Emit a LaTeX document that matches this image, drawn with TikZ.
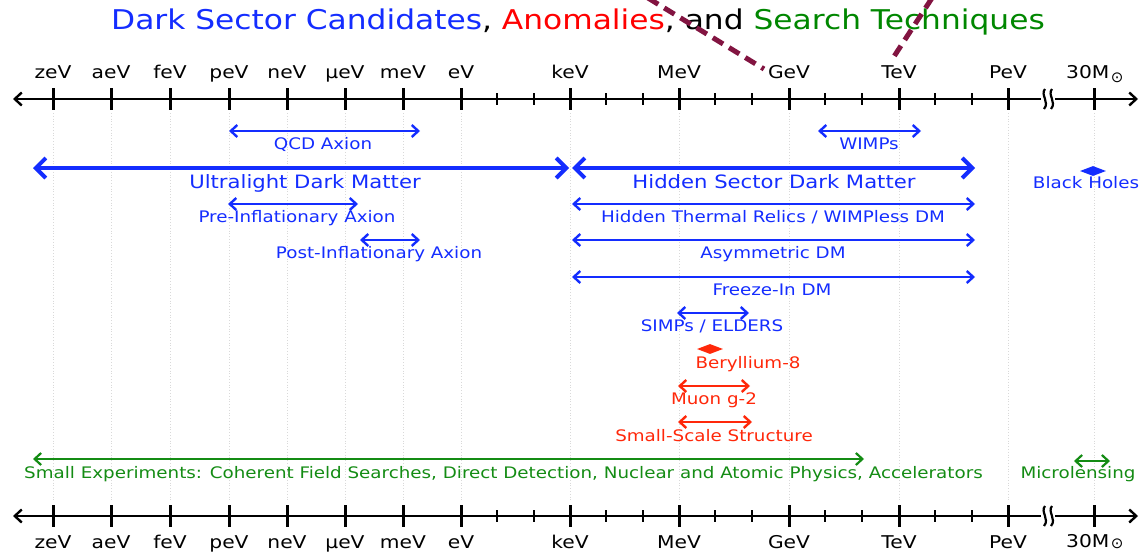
\documentclass[tikz,border=0pt]{standalone}
\usepackage{fontspec}
\setmainfont{DejaVu Sans}[FakeStretch=1.15]
\newfontfamily\symfont{DejaVu Sans}
\usetikzlibrary{arrows.meta,shapes.geometric}
\definecolor{dsblue}{RGB}{20,45,255}
\definecolor{dsred}{RGB}{255,40,10}
\definecolor{tred}{RGB}{255,0,0}
\definecolor{dsgreen}{RGB}{20,140,20}
\definecolor{tgreen}{RGB}{0,135,0}
\definecolor{dsmaroon}{RGB}{130,20,65}
\newcommand{\solarsym}[1]{\hspace{1.5pt}\raisebox{#1}{\symfont\fontsize{15}{15}\selectfont ⊙}}
\begin{document}
\begin{tikzpicture}[x=1pt,y=-1pt,
  lab/.style={inner sep=0pt, text height=0.72em, text depth=0.2em, font=\fontsize{15.9}{19}\selectfont},
  biglab/.style={lab, font=\fontsize{18.4}{22}\selectfont},
  ticklab/.style={lab, font=\fontsize{17.6}{21}\selectfont, text=black},
  axisline/.style={line width=2.4pt, black, {Straight Barb[length=7pt,width=13pt]}-{Straight Barb[length=7pt,width=13pt]}},
  majortick/.style={line width=3pt, black},
  minortick/.style={line width=2.6pt, black},
  gridline/.style={line width=0.8pt, black!15, dotted},
  rng/.style={line width=2.4pt, {Straight Barb[length=6.5pt,width=12pt]}-{Straight Barb[length=6.5pt,width=12pt]}},
  bigrng/.style={line width=4pt, {Straight Barb[length=10pt,width=20pt]}-{Straight Barb[length=10pt,width=20pt]}},
  dmark/.style={diamond, aspect=2.6, minimum width=26pt, minimum height=10pt, inner sep=0pt},
  dashln/.style={line width=5pt, dsmaroon, dash pattern=on 12pt off 7pt},
  breakln/.style={line width=2.2pt, black}
]
\useasboundingbox (0,0) rectangle (1140,554);
\fill[white] (0,0) rectangle (1140,554);

% grid lines
\foreach \x in {53,111,170,229,287,345,403,461,570,679,789,899,1008,1094}
  \draw[gridline] (\x,113) -- (\x,502);

% title
\node[inner sep=0pt, font=\fontsize{27.2}{31}\selectfont, text height=0.72em, text depth=0.2em] (title) at (578,27)
  {\textcolor{dsblue}{Dark Sector Candidates}, \textcolor{tred}{Anomalies}, and \textcolor{tgreen}{Search Techniques}};

% axes
\coordinate (tL) at (13,99);  \coordinate (tR) at (1138,99);
\coordinate (bL) at (13,516); \coordinate (bR) at (1138,516);
\draw[axisline] (tL) -- (tR);
\draw[axisline] (bL) -- (bR);

\foreach \x/\lab [count=\i] in {53/zeV,111/aeV,170/feV,229/peV,287/neV,345/{µeV},403/meV,461/eV,570/keV,679/MeV,789/GeV,899/TeV,1008/PeV}{
  \draw[majortick] (\x,88) -- (\x,110);
  \draw[majortick] (\x,505) -- (\x,527);
  \node[ticklab] (tt\i) at (\x,76) {\lab};
  \node[ticklab] (bt\i) at (\x,546) {\lab};
}
\draw[majortick] (1094,88) -- (1094,110);
\draw[majortick] (1094,505) -- (1094,527);
\node[ticklab, anchor=west] (ttm) at (1066,76) {30M\solarsym{-4pt}};
\node[ticklab, anchor=west] (btm) at (1066,545) {30M\solarsym{-0.5pt}};

\foreach \x in {497,534,606,643,715,752,825,862,935,972}{
  \draw[minortick] (\x,93) -- (\x,105);
  \draw[minortick] (\x,510) -- (\x,522);
}

% axis breaks
\foreach \y in {99,516}{
  \fill[white] (1041,\y-4) rectangle (1055,\y+4);
  \draw[breakln] (1045,\y-10) .. controls (1040,\y-4) and (1050,\y+3) .. (1044,\y+10);
  \draw[breakln] (1052,\y-10) .. controls (1047,\y-4) and (1057,\y+3) .. (1051,\y+10);
}

% blue ranges
\coordinate (qcdL) at (229,131); \coordinate (qcdR) at (420,131);
\draw[rng, dsblue] (qcdL) -- (qcdR);
\node[lab, text=dsblue] (qcd) at (323,147) {QCD Axion};

\coordinate (ulL) at (33,168); \coordinate (ulR) at (569,168);
\draw[bigrng, dsblue] (ulL) -- (ulR);
\node[biglab, text=dsblue] (ul) at (305,186) {Ultralight Dark Matter};

\coordinate (preL) at (228,204); \coordinate (preR) at (358,204);
\draw[rng, dsblue] (preL) -- (preR);
\node[lab, text=dsblue] (pre) at (297,220) {Pre-Inflationary Axion};

\coordinate (postL) at (360,240); \coordinate (postR) at (420,240);
\draw[rng, dsblue] (postL) -- (postR);
\node[lab, text=dsblue] (post) at (379,256) {Post-Inflationary Axion};

\coordinate (wimpL) at (818,131); \coordinate (wimpR) at (921,131);
\draw[rng, dsblue] (wimpL) -- (wimpR);
\node[lab, text=dsblue] (wimp) at (869,147) {WIMPs};

\coordinate (hsL) at (572,168); \coordinate (hsR) at (975,168);
\draw[bigrng, dsblue] (hsL) -- (hsR);
\node[biglab, text=dsblue] (hs) at (774,186) {Hidden Sector Dark Matter};

\coordinate (htL) at (572,204); \coordinate (htR) at (975,204);
\draw[rng, dsblue] (htL) -- (htR);
\node[lab, text=dsblue] (ht) at (773,220) {Hidden Thermal Relics / WIMPless DM};

\coordinate (asL) at (572,240); \coordinate (asR) at (975,240);
\draw[rng, dsblue] (asL) -- (asR);
\node[lab, text=dsblue] (as) at (773,256) {Asymmetric DM};

\coordinate (fiL) at (572,277); \coordinate (fiR) at (975,277);
\draw[rng, dsblue] (fiL) -- (fiR);
\node[lab, text=dsblue] (fi) at (772,293) {Freeze-In DM};

\coordinate (siL) at (677,313); \coordinate (siR) at (749,313);
\draw[rng, dsblue] (siL) -- (siR);
\node[lab, text=dsblue] (si) at (712,329) {SIMPs / ELDERS};

\node[dmark, fill=dsblue] (bhd) at (1093,171) {};
\node[lab, text=dsblue] (bh) at (1086,186) {Black Holes};

% red anomalies
\node[dmark, fill=dsred] (bed) at (710,349) {};
\node[lab, text=dsred] (be) at (748,366) {Beryllium-8};

\coordinate (muL) at (678,386); \coordinate (muR) at (750,386);
\draw[rng, dsred] (muL) -- (muR);
\node[lab, text=dsred] (mu) at (714,402) {Muon g-2};

\coordinate (ssL) at (678,422); \coordinate (ssR) at (752,422);
\draw[rng, dsred] (ssL) -- (ssR);
\node[lab, text=dsred] (ss) at (714,439) {Small-Scale Structure};

% green techniques
\coordinate (seL) at (33,459); \coordinate (seR) at (864,459);
\draw[rng, dsgreen, line width=2.2pt] (seL) -- (seR);
\node[lab, text=dsgreen, anchor=west] (se) at (24,476) {Small Experiments: Coherent Field Searches, Direct Detection, Nuclear and Atomic Physics, Accelerators};

\coordinate (mlL) at (1074,461); \coordinate (mlR) at (1110,461);
\draw[rng, dsgreen, line width=2.2pt] (mlL) -- (mlR);
\node[lab, text=dsgreen] (ml) at (1078,476) {Microlensing};

% dashed maroon lines
\coordinate (d1a) at (648,-2); \coordinate (d1b) at (764,69);
\coordinate (d2a) at (932,-2); \coordinate (d2b) at (893,58);
\draw[dashln] (d1a) -- (d1b);
\draw[dashln] (d2a) -- (d2b);
\end{tikzpicture}
\end{document}
